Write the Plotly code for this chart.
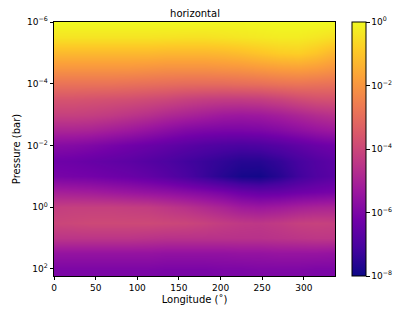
import plotly.graph_objects as go

# Longitudes (degrees)
longitude = [0, 22.5, 45, 67.5, 90, 112.5, 135, 157.5, 180, 202.5, 225, 247.5, 270, 292.5, 315, 337.5]
# Pressure levels (bar)
log_pressure = [-6, -5.5, -5, -4.5, -4, -3.5, -3, -2.5, -2, -1.5, -1, -0.5, 0, 0.5, 1, 1.5, 2, 2.5]
pressure = [10 ** p for p in log_pressure]

# log10 abundance, one row per pressure level
row_m6_0 = [0, 0, 0, 0, 0, 0, 0, 0, -0.02, -0.05, -0.05, -0.03, 0, 0, 0, 0]
row_m5_5 = [-0.4, -0.4, -0.4, -0.4, -0.4, -0.4, -0.42, -0.45, -0.45, -0.4, -0.35, -0.3, -0.25, -0.25, -0.35, -0.5]
row_m5_0 = [-1.25, -1.25, -1.25, -1.25, -1.25, -1.25, -1.3, -1.3, -1.3, -1.25, -1.15, -1.0, -0.85, -0.8, -1.0, -1.35]
row_m4_5 = [-2.0, -2.0, -2.0, -2.0, -2.0, -2.05, -2.1, -2.1, -2.1, -2.05, -2.0, -1.9, -1.8, -1.75, -1.85, -2.05]
row_m4_0 = [-2.85, -2.85, -2.85, -2.85, -2.9, -2.95, -3.0, -3.05, -3.05, -3.05, -3.0, -2.95, -2.85, -2.8, -2.85, -2.9]
row_m3_5 = [-3.65, -3.65, -3.7, -3.75, -3.8, -3.9, -4.0, -4.15, -4.25, -4.3, -4.3, -4.25, -4.1, -3.9, -3.75, -3.7]
row_m3_0 = [-4.2, -4.2, -4.25, -4.35, -4.5, -4.65, -4.85, -5.0, -5.15, -5.3, -5.35, -5.3, -5.15, -4.95, -4.75, -4.6]
row_m2_5 = [-4.95, -4.95, -5.0, -5.15, -5.3, -5.5, -5.7, -5.9, -6.0, -6.05, -6.05, -6.0, -5.85, -5.65, -5.45, -5.3]
row_m2_0 = [-5.8, -5.85, -5.95, -6.1, -6.25, -6.4, -6.55, -6.7, -6.85, -6.95, -7.0, -6.95, -6.8, -6.6, -6.4, -6.25]
row_m1_5 = [-6.3, -6.35, -6.45, -6.55, -6.65, -6.8, -6.95, -7.15, -7.3, -7.45, -7.6, -7.6, -7.4, -7.1, -6.85, -6.65]
row_m1_0 = [-6.1, -6.15, -6.2, -6.3, -6.4, -6.55, -6.75, -7.0, -7.3, -7.6, -7.85, -7.9, -7.6, -7.2, -6.9, -6.7]
row_m0_5 = [-5.1, -5.15, -5.2, -5.3, -5.4, -5.5, -5.6, -5.75, -5.9, -6.1, -6.35, -6.5, -6.45, -6.3, -6.2, -6.1]
row_p0_0 = [-4.25, -4.2, -4.2, -4.2, -4.25, -4.3, -4.45, -4.6, -4.8, -5.0, -5.25, -5.35, -5.25, -5.1, -5.0, -4.95]
row_p0_5 = [-4.05, -4.0, -3.95, -3.95, -3.95, -3.95, -4.0, -4.05, -4.15, -4.3, -4.4, -4.45, -4.35, -4.2, -4.15, -4.2]
row_p1_0 = [-4.5, -4.5, -4.5, -4.5, -4.5, -4.55, -4.6, -4.6, -4.6, -4.6, -4.6, -4.6, -4.55, -4.5, -4.45, -4.45]
row_p1_5 = [-5.5, -5.5, -5.5, -5.5, -5.5, -5.5, -5.55, -5.55, -5.55, -5.55, -5.5, -5.5, -5.45, -5.45, -5.45, -5.5]
row_p2_0 = [-6.0, -6.0, -6.0, -6.0, -6.0, -6.0, -6.05, -6.05, -6.05, -6.0, -6.0, -5.95, -5.95, -5.95, -6.0, -6.0]
row_p2_5 = [-6.05, -6.05, -6.05, -6.05, -6.05, -6.05, -6.1, -6.1, -6.1, -6.05, -6.05, -6.0, -6.0, -6.0, -6.05, -6.05]

log_abundance = [row_m6_0, row_m5_5, row_m5_0, row_m4_5, row_m4_0, row_m3_5, row_m3_0, row_m2_5,
                 row_m2_0, row_m1_5, row_m1_0, row_m0_5, row_p0_0, row_p0_5, row_p1_0, row_p1_5,
                 row_p2_0, row_p2_5]

y_tick_exps = [-6, -4, -2, 0, 2]
cbar_tick_exps = [0, -2, -4, -6, -8]

def sup(e):
    return "10<sup>" + str(e).replace("-", "\u2212") + "</sup>"

font = "DejaVu Sans"
# figure is offset 8px by the page body margin
W, H = 407, 303
L, T, PW, PH = 46, 14, 281, 254

fig = go.Figure(go.Heatmap(
    x=longitude, y=pressure, z=log_abundance,
    colorscale="Plasma", zmin=-8, zmax=0, zsmooth="best",
    colorbar=dict(
        x=(344 - L) / PW, xanchor="left", xref="paper", xpad=0,
        y=0, yanchor="bottom", len=1, lenmode="fraction", ypad=0,
        thickness=14, thicknessmode="pixels",
        outlinewidth=1, outlinecolor="black",
        tickvals=cbar_tick_exps, ticktext=[sup(e) for e in cbar_tick_exps],
        ticks="outside", ticklen=3.5, tickcolor="black", tickwidth=0.8,
        tickfont=dict(family=font, size=9, color="black"),
    ),
))

fig.update_layout(
    width=W, height=H,
    margin=dict(l=L, r=W - L - PW, t=T, b=H - T - PH, autoexpand=False),
    paper_bgcolor="white", plot_bgcolor="white",
    title=dict(text="horizontal", x=187 / W, xanchor="center", y=1 - 5.5 / H, yanchor="middle",
               font=dict(family=font, size=10, color="black")),
    xaxis=dict(
        range=[0, 337.5], tickvals=[0, 50, 100, 150, 200, 250, 300],
        ticks="outside", ticklen=3.5, tickwidth=0.8, tickcolor="black",
        showline=True, linecolor="black", linewidth=0.8, mirror=True,
        showgrid=False, zeroline=False, automargin=False,
        tickfont=dict(family=font, size=9, color="black"),
        title=dict(text="Longitude (\u02da)", font=dict(family=font, size=10, color="black"), standoff=3),
    ),
    yaxis=dict(
        type="log", range=[2.23, -6], automargin=False,
        tickvals=[10 ** e for e in y_tick_exps], ticktext=[sup(e) for e in y_tick_exps],
        ticks="outside", ticklen=3.5, tickwidth=0.8, tickcolor="black",
        showline=True, linecolor="black", linewidth=0.8, mirror=True,
        showgrid=False, zeroline=False,
        tickfont=dict(family=font, size=9, color="black"),
        title=dict(text="Pressure (bar)", font=dict(family=font, size=10, color="black"), standoff=4),
    ),
)

fig.write_html("out.html")
